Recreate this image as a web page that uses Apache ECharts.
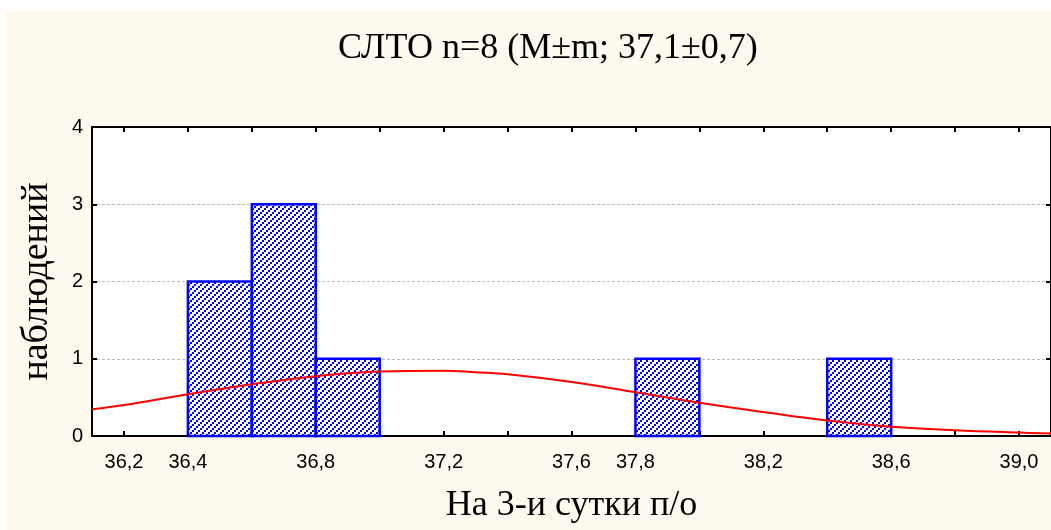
<!DOCTYPE html>
<html>
<head>
<meta charset="utf-8">
<script src="https://cdn.jsdelivr.net/npm/echarts@6/dist/echarts.min.js"></script>
<style>
html,body{margin:0;padding:0;background:#fff;}
#chart{width:1051px;height:530px;
background:linear-gradient(#fff,#fff) top left/100% 11px no-repeat,linear-gradient(#fff,#fff) top left/6px 100% no-repeat,#FEF9EE;}
</style>
</head>
<body>
<div id="chart"></div>
<script>
// Histogram bins: [start, end, count]
const binStart = [36.4, 36.6, 36.8, 37.8, 38.4];
const binEnd   = [36.6, 36.8, 37.0, 38.0, 38.6];
const binCount = [2, 3, 1, 1, 1];

// Fitted normal curve
const curveX = [36.1, 36.2, 36.4, 36.6, 36.8, 37.0, 37.2, 37.3, 37.4, 37.6, 37.8, 38.0, 38.2, 38.4, 38.6, 38.8, 39.0, 39.1];
const curveY = [0.345, 0.40, 0.54, 0.67, 0.775, 0.835, 0.845, 0.825, 0.80, 0.70, 0.566, 0.43, 0.31, 0.20, 0.12, 0.074, 0.044, 0.033];

// Axis ticks and labels
const xTickValues = [36.2, 36.4, 36.6, 36.8, 37.0, 37.2, 37.4, 37.6, 37.8, 38.0, 38.2, 38.4, 38.6, 38.8, 39.0];
const xLabelValues = [36.2, 36.4, 36.8, 37.2, 37.6, 37.8, 38.2, 38.6, 39.0];
const yTicks = [0, 1, 2, 3, 4];

const titleText = 'СЛТО n=8 (M±m; 37,1±0,7)';
const xName = 'На 3-и сутки п/о';
const yName = 'наблюдений';

// hatch pattern (diagonal dotted stripes)
const pc = document.createElement('canvas');
pc.width = 6; pc.height = 6;
const g = pc.getContext('2d');
g.fillStyle = '#ffffff'; g.fillRect(0, 0, 6, 6);
g.fillStyle = '#0000ff';
[[0,4],[2,2],[4,0]].forEach(p => g.fillRect(p[0], p[1], 2, 2));
const hatch = {image: pc, repeat: 'repeat'};

const chart = echarts.init(document.getElementById('chart'), null, {renderer: 'canvas'});
const fmt = v => Number(v).toFixed(1).replace('.', ',');
const axisLineStyle = {color: '#000', width: 2};

chart.setOption({
  backgroundColor: 'transparent',
  animation: false,
  title: {
    text: titleText, left: 333, top: 26,
    textStyle: {fontFamily: 'Liberation Serif', fontSize: 36, fontWeight: 'normal', color: '#000'}
  },
  grid: {left: 92, top: 127, width: 960, height: 309, show: true, backgroundColor: '#fff', borderWidth: 0},
  xAxis: [{
    type: 'value', position: 'bottom', min: 36.1, max: 39.1,
    name: xName, nameLocation: 'middle', nameGap: 52,
    nameTextStyle: {fontFamily: 'Liberation Serif', fontSize: 36, color: '#000'},
    axisLine: {show: true, onZero: false, lineStyle: axisLineStyle},
    axisTick: {show: true, inside: true, length: 5, customValues: xTickValues, lineStyle: {color: '#000', width: 2}},
    axisLabel: {customValues: xLabelValues, formatter: fmt, margin: 16, fontFamily: 'Liberation Sans', fontSize: 20, color: '#000'},
    splitLine: {show: false}
  }, {
    type: 'value', position: 'top', min: 36.1, max: 39.1,
    axisLine: {show: true, onZero: false, lineStyle: axisLineStyle},
    axisTick: {show: true, inside: true, length: 5, customValues: xTickValues, lineStyle: {color: '#000', width: 2}},
    axisLabel: {show: false},
    splitLine: {show: false}
  }],
  yAxis: [{
    type: 'value', position: 'left', min: 0, max: 4, interval: 1,
    name: yName, nameLocation: 'middle', nameGap: 36, nameRotate: 90,
    nameTextStyle: {fontFamily: 'Liberation Serif', fontSize: 38, color: '#000'},
    axisLine: {show: true, onZero: false, lineStyle: axisLineStyle},
    axisTick: {show: true, inside: true, length: 5, lineStyle: {color: '#000', width: 2}},
    axisLabel: {customValues: yTicks, margin: 9, fontFamily: 'Liberation Sans', fontSize: 20, color: '#000'},
    splitLine: {show: true, lineStyle: {color: '#BDBDBD', width: 1, type: [3, 2]}}
  }, {
    type: 'value', position: 'right', min: 0, max: 4, interval: 1,
    axisLine: {show: true, onZero: false, lineStyle: axisLineStyle},
    axisTick: {show: true, inside: true, length: 5, lineStyle: {color: '#000', width: 2}},
    axisLabel: {show: false},
    splitLine: {show: false}
  }],
  series: [{
    type: 'custom',
    xAxisIndex: 0, yAxisIndex: 0,
    encode: {x: [0, 1], y: 2},
    data: binStart.map((s, i) => [s, binEnd[i], binCount[i]]),
    renderItem: function (params, api) {
      const p0 = api.coord([api.value(0), api.value(2)]);
      const p1 = api.coord([api.value(1), 0]);
      return {
        type: 'rect',
        shape: {x: p0[0], y: p0[1], width: p1[0] - p0[0], height: p1[1] - p0[1]},
        style: {fill: hatch, stroke: '#0000ff', lineWidth: 2.5}
      };
    },
    z: 2
  }, {
    type: 'line',
    xAxisIndex: 0, yAxisIndex: 0,
    data: curveX.map((x, i) => [x, curveY[i]]),
    smooth: 0.4, symbol: 'none',
    lineStyle: {color: '#ff0000', width: 2},
    z: 3
  }]
});
</script>
</body>
</html>
